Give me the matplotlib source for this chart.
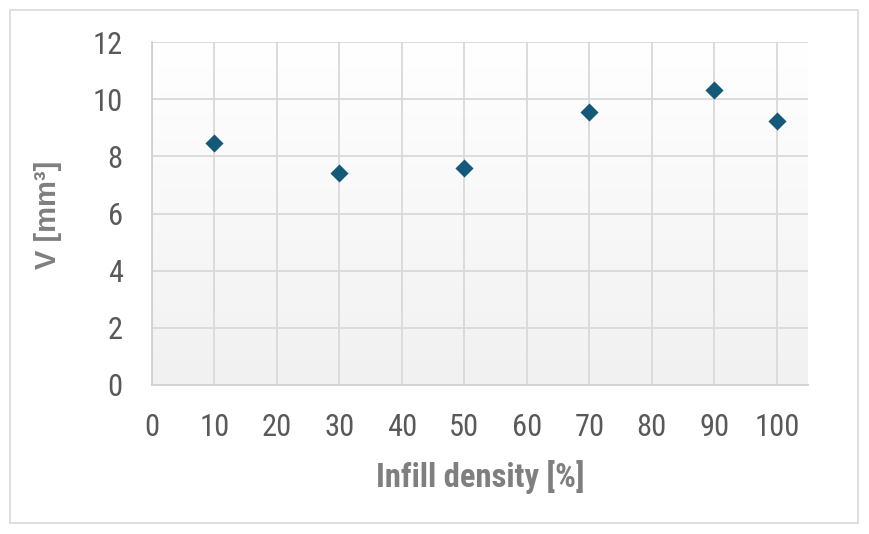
import matplotlib
matplotlib.use("Agg")
import matplotlib.pyplot as plt
import matplotlib.transforms as mtransforms
import numpy as np
from matplotlib.patches import Rectangle

infill = [10, 30, 50, 70, 90, 100]
volume = [8.47, 7.42, 7.59, 9.55, 10.32, 9.24]
xticks = [0, 10, 20, 30, 40, 50, 60, 70, 80, 90, 100]
yticks = [0, 2, 4, 6, 8, 10, 12]

narrow = ["Roboto Condensed", "DejaVu Sans"]

W, H = 869, 534
fig = plt.figure(figsize=(W / 100, H / 100), dpi=100)
fig.patch.set_facecolor("white")
fig.patches.append(Rectangle((10 / W, 1 - 523 / H), 848 / W, 513 / H, transform=fig.transFigure,
                             fill=False, edgecolor="#d9d9d9", linewidth=1.2))

L, R, T, B = 152, 808, 42, 385
ax = fig.add_axes([L / W, 1 - B / H, (R - L) / W, (B - T) / H])
ax.set_xlim(0, 105)
ax.set_ylim(0, 12)

grad = np.linspace(0.945, 1.0, 256).reshape(-1, 1)
ax.imshow(np.dstack([grad, grad, grad]), extent=[0, 1, 0, 1], transform=ax.transAxes,
          aspect="auto", origin="lower", zorder=0, interpolation="bilinear")

ax.set_xticks(xticks)
ax.set_yticks(yticks)
ax.grid(True, color="#d9d9d9", linewidth=1.3, zorder=1)
for s in ["top", "right"]:
    ax.spines[s].set_visible(False)
for s in ["left", "bottom"]:
    ax.spines[s].set_color("#d0d0d0")
    ax.spines[s].set_linewidth(1.3)
ax.tick_params(axis="x", length=0, pad=20, labelsize=22, labelcolor="#595959")
ax.tick_params(axis="y", length=0, pad=21, labelsize=22, labelcolor="#595959")
for lab in ax.get_xticklabels() + ax.get_yticklabels():
    lab.set_fontfamily(narrow)

ax.scatter(infill, volume, marker="D", s=85, color="#14587a", linewidths=0, zorder=3, clip_on=False)

ax.set_xlabel("Infill density [%]", fontsize=23.5, fontweight="bold", color="#7f7f7f",
              fontfamily=narrow, labelpad=13)
ax.set_ylabel("V [mm³]", fontsize=21, fontweight="bold", color="#7f7f7f",
              fontfamily=["Liberation Sans", "DejaVu Sans"], labelpad=0)
ax.yaxis.set_label_coords(62 / W, (385 - 215) / (385 - 42),
                          transform=mtransforms.blended_transform_factory(fig.transFigure, ax.transAxes))

fig.savefig("out.png", dpi=100)
